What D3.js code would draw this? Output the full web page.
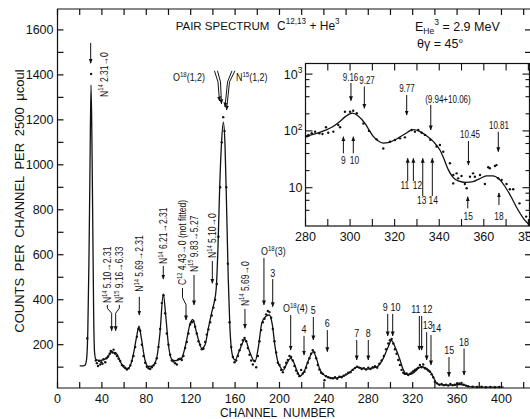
<!DOCTYPE html>
<html>
<head>
<meta charset="utf-8">
<title>Pair spectrum C12,13 + He3</title>
<script src="https://cdnjs.cloudflare.com/ajax/libs/d3/7.8.5/d3.min.js"></script>
<style>
  body { margin: 0; background: #fff; }
  svg text { font-family: "Liberation Sans", Arial, sans-serif; fill: #111; }
</style>
</head>
<body>
<script>
// ---------- values ----------

// fitted curve, main spectrum: [channel, counts]
var mainFit = [
  [20,106],[23,106],[25,110],[26.3,140],[27.3,260],[28.3,560],[29.3,1000],[30.2,1355],[31,1120],
  [31.8,720],[32.6,330],[33.4,165],[34.5,135],[37,130],[41,133],[45,142],[47.5,162],[49,170],
  [50.5,164],[52,166],[54,155],[56.5,125],[59.3,102],[62.3,92],[65.3,103],[68.3,156],[71.3,236],
  [73.4,283],[75.8,221],[78.8,132],[81.8,103],[85.7,106],[89.3,140],[92.3,251],[95.3,426],
  [97.5,330],[99.8,206],[102.9,135],[105.9,129],[109,133],[111.9,140],[114,170],[116.4,221],
  [119,285],[121.8,313],[125.4,251],[129.9,184],[132.9,199],[135.9,273],[139,345],[141,385],
  [143,450],[144.5,620],[146,880],[147.7,1090],[149.4,1190],[150.9,1090],[152.4,800],[153.8,500],
  [155.3,280],[156.8,175],[158.5,140],[160,132],[164,175],[168.9,224],[173,170],[177.9,124],
  [181,190],[184,295],[187.5,325],[190.8,332],[193.5,290],[196,191],[198.5,125],[200.5,102],
  [203.4,87],[206.5,115],[210,139],[213,120],[216,80],[218.5,61],[222,78],[226,130],[230.5,169],
  [233.5,135],[236.5,88],[239.5,68],[242.5,58],[248.5,51],[253,54],[257.5,61],[262,72],[266.5,91],
  [269.5,100],[274,96],[278.5,91],[283,96],[287.5,100],[290.5,115],[293.5,139],[297.5,185],
  [301,218],[304.5,185],[308.6,132],[311,95],[314.5,68],[318,68],[322,80],[325.5,96],[328,102],
  [331,98],[334,88],[337,72],[339,52],[341,32],[344,22],[350,20],[356,20],[362,23],[366,21],
  [370,15],[376,12],[385,11],[395,11],[402,11]
];

// measured points, main spectrum: [channel, counts]
var mainPoints = [
  [26.8,228],[30.3,1404],
  [34.5,130],[35.5,118],[36.5,105],[37.5,128],[38.5,112],[39.5,122],[40.5,115],[41.5,135],[43,122],
  [44,140],[45.5,148],[47,160],[48,172],[49.5,165],[50.5,178],[52,160],[53.5,150],[55,138],
  [56.5,128],[58,110],[59.5,105],[61,98],[62.5,90],[64,95],[65.5,108],
  [67,128],[68.5,150],[70,190],[71.5,235],[73,270],[74.5,262],[76,200],[77.5,150],[79,120],
  [80.5,102],[82,95],[83.5,92],[85,100],[86.5,108],[88,118],[89.5,140],
  [91,190],[92.5,270],[94,385],[95.5,420],[97,340],[98.5,250],[100,200],[101.5,155],[103,130],
  [104.5,125],[106,118],[107.5,112],[109,135],[110.5,138],[112,132],[113.5,150],[115,185],
  [116.5,212],[118,250],[119.5,290],[121,300],[122.5,305],[124,280],[125.5,250],[127,215],
  [128.5,200],[130,180],[131.5,182],[133,212],[134.5,245],[136,268],[137.5,300],[139,330],
  [140.5,365],[142,400],[143.5,470],
  [145,680],[146.5,900],[148,1100],[149.3,1212],[150.5,1150],[152,900],[153.5,560],[155,300],
  [156.5,190],[158,145],[159.5,122],[161,130],
  [162.5,150],[164,175],[165.5,200],[167,220],[168.5,230],[170,215],[171.5,185],[173,155],
  [174.5,130],[176,112],[177.5,128],[179,100],[180.5,150],
  [182,215],[183.5,265],[185,300],[186.5,315],[188,335],[189.5,350],[191,345],[192.5,320],
  [194,270],[195.5,215],[197,165],[198.5,120],[200,110],[201.5,88],[203,78],
  [204.5,100],[206,120],[207.5,132],[209,150],[210.5,145],[212,130],[213.5,105],[215,85],
  [216.5,72],[218,60],[219.5,88],[221,72],
  [222.5,80],[224,98],[225.5,120],[227,140],[228.5,160],[230,175],[231.5,165],[233,140],
  [234.5,110],[236,90],[237.5,75],[239,70],[240.5,42],[242,60],
  [244,55],[246,52],[248,50],[250,55],[252,48],[254,58],[256,55],[258,62],[260,68],[262,75],
  [264,78],[266,88],[268,96],[270,102],[272,98],[274,92],[276,96],[278,90],[280,98],[282,92],
  [284,100],[286,104],[288,98],[290,115],
  [292,130],[294,150],[296,180],[298,205],[299.5,220],[301,225],[302.5,205],[304,180],
  [305.5,160],[307,132],[308.5,110],[310,88],[311.5,75],[313,70],[314.5,72],[316,65],
  [317.5,70],[319,75],[320.5,82],
  [322,88],[323.5,92],[325,98],[326.5,110],[328,100],[329.5,112],[331,95],[332.5,92],[334,85],
  [335.5,80],[337,68],[338.5,55],
  [340,35],[342,28],[344,22],[346,25],[348,20],[350,22],[352,18],[354,25],[356,20],[358,22],
  [360,26],[362,28],[364,30],[366,22],[368,18],[370,15],[374,13],[378,12],[382,13],[386,11],
  [390,12],[394,11],[398,12]
];

// fitted curve in the log inset: [channel, counts]
var insetFit = [
  [280,81],[283,86],[286,93],[289,103],[292,117],[295,142],[298,180],[301,205],[303.5,185],
  [306.7,135],[308.5,104],[310.4,80],[312.5,67],[314.9,61],[317.5,63],[320.9,72],[324.5,88],
  [328.3,105],[331,99],[334.3,82],[337.5,64],[340.3,46],[342,33],[344,21],[346,15.5],
  [348.5,13.2],[352,12.4],[355.2,12.8],[358,14.3],[361.2,16.1],[364,16.2],[367,14],[369.5,10.5],
  [372,7.2],[375,4.3],[378,2.8],[380.5,2.2]
];

// measured points in the inset: [channel, counts]
var insetPoints = [
  [280.5,80],[281.3,85],[282.8,91],[284.3,97],[286.2,91],[287.6,88],[289.2,116],[290.2,93],
  [292.5,97],[294.7,127],[295.5,116],[297.7,218],[300,218],[301.4,227],[303,204],[306,135],
  [308.5,100],[311.9,71],[314.9,49],[317.9,64.5],[320.1,69],[322.4,74],[324.6,77],[327.6,104],
  [329.1,97],[330.6,104],[332.1,93],[333.6,85],[336,70],[338.8,53],[340.3,56.5],[341.8,43],
  [344.8,27],[346.3,16.7],[346.3,11.9],[347.8,17.9],[348.5,14.6],[350,16.1],[351.5,11.6],
  [352.3,9.8],[353.8,15.6],[355.2,17.9],[356,15.6],[358.3,16.7],[360.5,11.6],[362,22.9],
  [362.7,22],[365,24.1],[365.7,25],[366.5,14.6],[368,13.7],[370.2,11.6],[371.7,9.4],
  [373.2,9.4],[376,5.3],[379,3.1]
];

// axes
var mainTickCh = [0,20,40,60,80,100,120,140,160,180,200,220,240,260,280,300,320,340,360,380,400,420];
var mainLabelCh = [0,40,80,120,160,200,240,280,320,360,400];
var mainTickCounts = [100,200,300,400,500,600,700,800,900,1000,1100,1200,1300,1400,1500,1600];
var mainLabelCounts = [200,400,600,800,1000,1200,1400,1600];
var insetTickCh = [280,290,300,310,320,330,340,350,360,370,380];
var insetLabelCh = [280,300,320,340,360,380];
var insetMajor = [10,100,1000];
var insetMinor = [4,6,8,20,40,60,80,200,400,600,800];
var insetLabels = [["10^{3}",1000],["10^{2}",100],["10",10]];

// annotations, main panel (channel, counts)
var mainVLabels = [
  {t:"N^{14} 2.31→0", ch:41.9, v:1302},
  {t:"N^{14} 5.10→2.31", ch:44.9, v:385},
  {t:"N^{15} 9.16→6.33", ch:55.7, v:385},
  {t:"N^{14} 5.69→2.31", ch:73.7, v:436},
  {t:"N^{14} 6.21→2.31", ch:95.3, v:559},
  {t:"C^{12} 4.43→0 (not fitted)", ch:112.6, v:465},
  {t:"N^{15} 9.83→5.27", ch:123, v:523},
  {t:"N^{14} 5.10→0", ch:139.5, v:586},
  {t:"N^{14} 5.69→0", ch:168.9, v:372}
];
var mainArrows = [
  [29.9,1542,1452],[73.7,413,332],[95.3,550,492],[123,510,377],[139.5,572,473],[168.9,359,273],
  [186,586,377],[193.9,492,369],[210.1,332,176],[222.1,239,154],[230.5,323,221],[243.1,265,169],
  [269.6,221,132],[280,221,132],[297.5,337,239],[302,337,239],[326,328,176],[328.1,328,176],
  [332.6,256,132],[336.5,243,110],[352.7,145,58],[366.3,183,65]
];
var mainBrackets = [
  [[44.9,377],[44.9,362],[48.8,340],[48.8,262]],
  [[55.7,377],[55.7,362],[52.4,340],[52.4,262]],
  [[112.6,452],[112.6,410],[115.8,378],[115.8,310]],
  [[141.4,1418],[144.6,1369],[145.95,1284]],
  [[144.15,1418],[146.85,1369],[147.75,1271]],
  [[157.2,1418],[153.2,1369],[150.9,1257]],
  [[159.9,1418],[155.0,1369],[152.3,1244]]
];
var mainHLabels = [
  {t:"O^{18}(1,2)", ch:132.9, v:1373, a:"end"},
  {t:"N^{15}(1,2)", ch:160.8, v:1373, a:"start"},
  {t:"O^{18}(3)", ch:183.4, v:597, a:"start"},
  {t:"3", ch:193.9, v:501},
  {t:"O^{18}(4)", ch:203.2, v:345, a:"start"},
  {t:"4", ch:222.1, v:252}, {t:"5", ch:230.5, v:337}, {t:"6", ch:243.1, v:277},
  {t:"7", ch:269.6, v:232}, {t:"8", ch:280, v:232},
  {t:"9", ch:295.2, v:350}, {t:"10", ch:304.5, v:350},
  {t:"11", ch:322.8, v:341}, {t:"12", ch:333.4, v:341},
  {t:"13", ch:333.5, v:270}, {t:"14", ch:341.2, v:257},
  {t:"15", ch:353, v:159}, {t:"18", ch:366.3, v:196}
];

// annotations, inset (channel, counts)
var insetTopLabels = [
  {t:"9.16", ch:300.2, v:771}, {t:"9.27", ch:307.6, v:670}, {t:"9.77", ch:325.5, v:484},
  {t:"(9.94+10.06)", ch:343.9, v:316}, {t:"10.45", ch:353.8, v:73.5}, {t:"10.81", ch:366.8, v:110}
];
var insetDownArrows = [[300.4,697,340],[306.4,605,250],[325.4,429,190],[336.2,286,104],[353.1,66.4,25.1],[366.5,96.8,43]];
var insetUpArrows = [[297,40.3,79],[301.45,40.3,79],[325.85,13.1,32.9],[328.4,13.1,32.9],[332.6,7.14,32.9],[336.9,7.14,32.9],[352.8,4.34,6.94],[366.8,4.96,8.07]];
var insetBottomLabels = [
  {t:"9", ch:297, v:26.1}, {t:"10", ch:302, v:26.1}, {t:"11", ch:324.6, v:9.68}, {t:"12", ch:330.2, v:9.68},
  {t:"13", ch:332.1, v:5.16}, {t:"14", ch:337.3, v:5.16}, {t:"15", ch:353, v:2.7}, {t:"18", ch:366.8, v:2.7}
];

// ---------- drawing ----------
var W = 530, H = 419;
var svg = d3.select("body").append("svg").attr("width", W).attr("height", H);

var x = d3.scaleLinear().domain([0, 426.6]).range([57.5, 531]);
var y = d3.scaleLinear().domain([7.4, 1693]).range([388, 9]).clamp(true);
var xi = d3.scaleLinear().domain([280, 380.5]).range([305.5, 529.5]);
var yi = d3.scaleLog().domain([2.117, 1537]).range([226, 63.5]).clamp(true);

svg.append("defs").append("marker")
    .attr("id", "head").attr("viewBox", "0 0 10 10")
    .attr("refX", 9).attr("refY", 5)
    .attr("markerUnits", "userSpaceOnUse")
    .attr("markerWidth", 5).attr("markerHeight", 5)
    .attr("orient", "auto")
  .append("path").attr("d", "M0,1 L10,5 L0,9 z").attr("fill", "#111");

// writes "N^{14}" style strings as tspans
function rich(sel, str, size) {
  var parts = str.split(/(\^\{[^}]*\}|_\{[^}]*\})/).filter(function(s) { return s.length; });
  var shift = 0;
  parts.forEach(function(p) {
    var target = 0, fs = size;
    if (p.indexOf("^{") === 0) { target = -0.42 * size; fs = 0.68 * size; p = p.slice(2, -1); }
    else if (p.indexOf("_{") === 0) { target = 0.28 * size; fs = 0.68 * size; p = p.slice(2, -1); }
    sel.append("tspan").attr("dy", (target - shift).toFixed(2)).style("font-size", fs + "px").text(p);
    shift = target;
  });
  return sel;
}

var X0 = x.range()[0], X1 = x.range()[1], Y0 = y.range()[0], Y1 = y.range()[1];

// main frame and ticks
var axis = svg.append("g").attr("stroke", "#111").attr("stroke-width", 1.2).attr("fill", "none");
axis.append("path").attr("d", "M" + X1 + "," + Y1 + "H" + X0 + "V" + Y0 + "H" + X1);
mainTickCh.forEach(function(c) {
  axis.append("line").attr("x1", x(c)).attr("x2", x(c)).attr("y1", Y0).attr("y2", Y0 - 6);
  axis.append("line").attr("x1", x(c)).attr("x2", x(c)).attr("y1", Y1).attr("y2", Y1 + 6);
});
mainTickCounts.forEach(function(v) {
  axis.append("line").attr("x1", X0).attr("x2", X0 + 6).attr("y1", y(v)).attr("y2", y(v));
  axis.append("line").attr("x1", X1).attr("x2", X1 - 6).attr("y1", y(v)).attr("y2", y(v));
});

svg.selectAll(".xl").data(mainLabelCh).enter().append("text")
    .attr("x", function(d) { return x(d); }).attr("y", 403)
    .attr("text-anchor", "middle").style("font-size", "12.5px").text(function(d) { return d; });
svg.selectAll(".yl").data(mainLabelCounts).enter().append("text")
    .attr("x", X0 - 4).attr("y", function(d) { return y(d) + 4.5; })
    .attr("text-anchor", "end").style("font-size", "12.5px").text(function(d) { return d; });

svg.append("text").attr("x", 277.5).attr("y", 417).attr("text-anchor", "middle")
    .style("font-size", "12px").style("word-spacing", "3px").text("CHANNEL NUMBER");
svg.append("text").attr("transform", "translate(23.5,201) rotate(-90)").attr("text-anchor", "middle")
    .style("font-size", "13px").style("word-spacing", "3px").text("COUNTS PER CHANNEL PER 2500 μcoul");

// titles
rich(svg.append("text").attr("x", 175.7).attr("y", 29.5).style("font-size", "11.5px"), "PAIR SPECTRUM", 11.5);
rich(svg.append("text").attr("x", 277).attr("y", 29.5).style("font-size", "12px"), "C^{12,13} + He^{3}", 12);
rich(svg.append("text").attr("x", 415).attr("y", 30.5).style("font-size", "12.5px"), "E_{He}^{3} = 2.9 MeV", 12.5);
svg.append("text").attr("x", 417).attr("y", 47.5).style("font-size", "12.5px").text("θγ = 45°");

// main curve and points
var mainLine = d3.line().x(function(d) { return x(d[0]); }).y(function(d) { return y(d[1]); })
    .curve(d3.curveMonotoneX);
svg.append("path").datum(mainFit).attr("d", mainLine)
    .attr("fill", "none").attr("stroke", "#111").attr("stroke-width", 1.3);
svg.selectAll(".mp").data(mainPoints).enter().append("circle")
    .attr("cx", function(d) { return x(d[0]); }).attr("cy", function(d) { return y(d[1]); })
    .attr("r", 1.2).attr("fill", "#111");

// main annotations
var ann = svg.append("g");
mainVLabels.forEach(function(d) {
  var t = ann.append("text")
      .attr("transform", "translate(" + (x(d.ch) + 3.6) + "," + y(d.v) + ") rotate(-90) scale(0.85,1)")
      .style("font-size", "10px");
  rich(t, d.t, 10);
});
mainArrows.forEach(function(d) {
  ann.append("line").attr("x1", x(d[0])).attr("x2", x(d[0])).attr("y1", y(d[1])).attr("y2", y(d[2]))
      .attr("stroke", "#111").attr("stroke-width", 1).attr("marker-end", "url(#head)");
});
var polyLine = d3.line().x(function(d) { return x(d[0]); }).y(function(d) { return y(d[1]); });
mainBrackets.forEach(function(d) {
  ann.append("path").attr("d", polyLine(d)).attr("fill", "none")
      .attr("stroke", "#111").attr("stroke-width", 1).attr("marker-end", "url(#head)");
});
mainHLabels.forEach(function(d) {
  var t = ann.append("text")
      .attr("transform", "translate(" + x(d.ch) + "," + y(d.v) + ") scale(0.85,1)")
      .attr("text-anchor", d.a || "middle").style("font-size", "10.5px");
  rich(t, d.t, 10.5);
});

// ---------- inset ----------
var IX0 = xi.range()[0], IX1 = xi.range()[1], IY0 = yi.range()[0], IY1 = yi.range()[1];
var inset = svg.append("g");
inset.append("rect").attr("x", IX0).attr("y", IY1).attr("width", IX1 - IX0).attr("height", IY0 - IY1)
    .attr("fill", "#fff").attr("stroke", "#111").attr("stroke-width", 1.2);
svg.append("clipPath").attr("id", "ic").append("rect")
    .attr("x", IX0).attr("y", IY1).attr("width", IX1 - IX0).attr("height", IY0 - IY1);

var iax = inset.append("g").attr("stroke", "#111").attr("stroke-width", 1.1);
insetTickCh.forEach(function(c) {
  iax.append("line").attr("x1", xi(c)).attr("x2", xi(c)).attr("y1", IY0).attr("y2", IY0 - 7);
  iax.append("line").attr("x1", xi(c)).attr("x2", xi(c)).attr("y1", IY1).attr("y2", IY1 + 7);
});
insetMajor.forEach(function(v) {
  iax.append("line").attr("x1", IX0).attr("x2", IX0 + 7).attr("y1", yi(v)).attr("y2", yi(v));
  iax.append("line").attr("x1", IX1).attr("x2", IX1 - 7).attr("y1", yi(v)).attr("y2", yi(v));
});
insetMinor.forEach(function(v) {
  iax.append("line").attr("x1", IX0).attr("x2", IX0 + 4).attr("y1", yi(v)).attr("y2", yi(v));
  iax.append("line").attr("x1", IX1).attr("x2", IX1 - 4).attr("y1", yi(v)).attr("y2", yi(v));
});
inset.selectAll(".ixl").data(insetLabelCh).enter().append("text")
    .attr("x", function(d) { return xi(d); }).attr("y", 240.5)
    .attr("text-anchor", "middle").style("font-size", "12.5px").text(function(d) { return d; });
insetLabels.forEach(function(d) {
  var t = inset.append("text").attr("x", IX0 - 3).attr("y", yi(d[1]) + 4.5)
      .attr("text-anchor", "end").style("font-size", "12.5px");
  rich(t, d[0], 12.5);
});

var iLine = d3.line().x(function(d) { return xi(d[0]); }).y(function(d) { return yi(d[1]); })
    .curve(d3.curveMonotoneX);
var idata = inset.append("g").attr("clip-path", "url(#ic)");
idata.append("path").datum(insetFit).attr("d", iLine)
    .attr("fill", "none").attr("stroke", "#111").attr("stroke-width", 1.3);
idata.selectAll("circle").data(insetPoints).enter().append("circle")
    .attr("cx", function(d) { return xi(d[0]); }).attr("cy", function(d) { return yi(d[1]); })
    .attr("r", 1.2).attr("fill", "#111");

insetTopLabels.forEach(function(d) {
  inset.append("text").attr("transform", "translate(" + xi(d.ch) + "," + yi(d.v) + ") scale(0.8,1)")
      .attr("text-anchor", "middle").style("font-size", "10px").text(d.t);
});
insetBottomLabels.forEach(function(d) {
  inset.append("text").attr("transform", "translate(" + xi(d.ch) + "," + yi(d.v) + ") scale(0.8,1)")
      .attr("text-anchor", "middle").style("font-size", "10.5px").text(d.t);
});
insetDownArrows.concat(insetUpArrows).forEach(function(d) {
  inset.append("line").attr("x1", xi(d[0])).attr("x2", xi(d[0])).attr("y1", yi(d[1])).attr("y2", yi(d[2]))
      .attr("stroke", "#111").attr("stroke-width", 1).attr("marker-end", "url(#head)");
});
</script>
</body>
</html>
